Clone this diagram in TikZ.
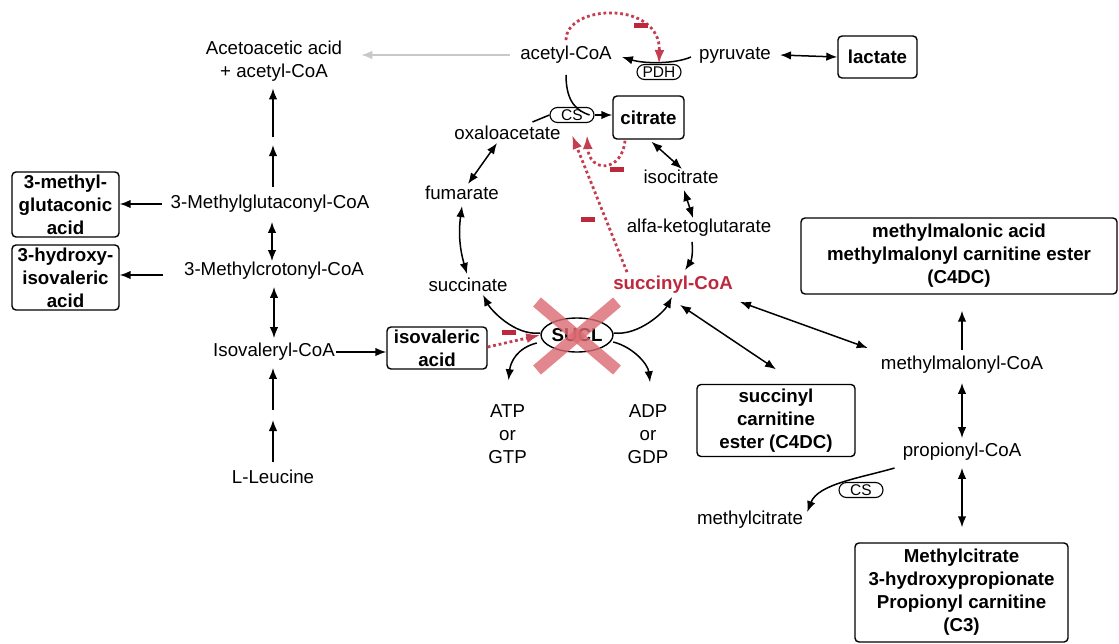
\documentclass[tikz,border=0pt]{standalone}
\usepackage{fontspec}
\setmainfont{Liberation Sans}
\usetikzlibrary{arrows.meta,shapes.geometric}
\definecolor{sred}{RGB}{190,40,60}
\definecolor{xred}{RGB}{220,105,115}
\definecolor{lgray}{RGB}{200,200,200}
\newcommand{\fsn}{\fontsize{18.7}{23}\selectfont}
\newcommand{\fsb}{\fontsize{18.7}{23}\selectfont\bfseries}
\newcommand{\fse}{\fontsize{15.5}{16}\selectfont}
\begin{document}
\begin{tikzpicture}[x=1pt,y=-1pt,
  lbl/.style={inner sep=1pt,font=\fsn,align=center},
  rlbl/.style={inner sep=1pt,font=\fsb,align=center,text=sred},
  box/.style={draw,rounded corners=4pt,line width=1.4pt,font=\fsb,align=center,inner sep=1pt},
  enz/.style={draw,rounded corners=7.5pt,line width=1.1pt,minimum width=44pt,minimum height=15pt,inner sep=0pt,font=\fse},
  ln/.style={line width=1.5pt},
  arr/.style={line width=1.5pt,-{Latex[length=11pt,width=8.5pt]}},
  darr/.style={line width=1.5pt,{Latex[length=11pt,width=8.5pt]}-{Latex[length=11pt,width=8.5pt]}},
  garr/.style={line width=1.4pt,lgray,-{Latex[length=11pt,width=8.5pt]}},
  rdot/.style={sred!90,line width=2.8pt,dash pattern=on 2.8pt off 2.8pt,-{Latex[length=14pt,width=10pt]}},
  minus/.style={fill=sred,minimum width=14pt,minimum height=5pt,inner sep=0pt},
  xmark/.style={xred,opacity=0.8,line width=12pt}
]
\useasboundingbox (0,0) rectangle (1119,643);

% ---------- nodes ----------
\node[lbl] (aceto) at (274,61) {Acetoacetic acid\\+ acetyl-CoA};
\node[lbl] (acoa) at (566,55) {acetyl-CoA};
\node[lbl] (pyr) at (735,55) {pyruvate};
\node[box,minimum width=79pt,minimum height=42pt] (lac) at (877.5,57) {lactate};
\node[enz] (pdh) at (659,72) {PDH};
\node[enz] (cs1) at (572,115) {CS};
\node[box,minimum width=71pt,minimum height=43pt] (cit) at (648.5,117.5) {citrate};
\node[lbl] (oaa) at (507.5,133) {oxaloacetate};
\node[lbl] (fum) at (462,193) {fumarate};
\node[lbl] (succ) at (468,285) {succinate};
\node[lbl] (iso) at (681,177) {isocitrate};
\node[lbl] (akg) at (699,228) {alfa-ketoglutarate};
\node[rlbl] (scoa) at (673,285) {succinyl-CoA};
\node[draw,ellipse,line width=1.4pt,minimum width=67pt,minimum height=34pt,inner sep=0pt,font=\fsb] (sucl) at (577,335) {SUCL};
\node[lbl] (atp) at (507.5,434) {ATP\\or\\GTP};
\node[lbl] (adp) at (648,434) {ADP\\or\\GDP};
\node[box,minimum width=100pt,minimum height=42pt] (isova) at (437,348) {isovaleric\\acid};
\node[lbl] (ivcoa) at (274,352) {Isovaleryl-CoA};
\node[lbl] (mccoa) at (274,271) {3-Methylcrotonyl-CoA};
\node[lbl] (mgcoa) at (270,204) {3-Methylglutaconyl-CoA};
\node[lbl] (leu) at (273,477) {L-Leucine};
\node[box,minimum width=107pt,minimum height=65pt] (mga) at (65.5,204.5) {3-methyl-\\glutaconic\\acid};
\node[box,minimum width=107pt,minimum height=65pt] (hiva) at (65.5,277.5) {3-hydroxy-\\isovaleric\\acid};
\node[box,minimum width=316pt,minimum height=76pt] (mma) at (959,256) {methylmalonic acid\\methylmalonyl carnitine ester\\(C4DC)};
\node[lbl] (mmcoa) at (962,365) {methylmalonyl-CoA};
\node[box,minimum width=158pt,minimum height=72pt] (sce) at (776,420.5) {succinyl\\carnitine\\ester (C4DC)};
\node[lbl] (pcoa) at (962,452) {propionyl-CoA};
\node[lbl] (mcit) at (750,520) {methylcitrate};
\node[enz] (cs2) at (861,490) {CS};
\node[box,minimum width=213pt,minimum height=99pt] (mcbox) at (961.5,592.5) {Methylcitrate\\3-hydroxypropionate\\Propionyl carnitine\\(C3)};

\coordinate (g1) at (273,414);
\coordinate (g2) at (273,141);

% ---------- top ----------
\draw[garr] ([xshift=-9pt]acoa.west) -- ([xshift=18pt]aceto.east |- acoa.west);
\draw[darr] ([xshift=8pt]pyr.east) -- (lac.west);
\draw[arr] ([xshift=-7pt,yshift=-2pt]pyr.west) .. controls ([xshift=16pt]pdh.north) and ([xshift=-14pt]pdh.north) .. ([xshift=9pt,yshift=-2pt]acoa.east);
\draw[rdot] ([yshift=5pt]acoa.north) .. controls +(0,-36) and +(2,-64) .. (pdh.north);
\node[minus] (mn1) at (641,25.5) {};

% acetyl-CoA + oxaloacetate -> citrate
\draw[ln] ([yshift=-10pt]acoa.south) .. controls +(0,28) and +(-12,-4) .. ([xshift=-5pt]cs1.east);
\draw[ln] ([xshift=-17pt,yshift=-7pt]cs1.west) -- (cs1.west);
\draw[arr] (cs1.east) -- (cs1.east -| cit.west);

% inhibition arrows to CS
\draw[rdot] ([xshift=-23.5pt,yshift=-1pt]cit.south) .. controls +(-3,32) and +(2,38) .. ([xshift=15pt,yshift=-12pt]cs1.south);
\node[minus] (mn2) at (616.5,169.5) {};
\draw[rdot] ([xshift=-46pt,yshift=3pt]scoa.north) -- ([yshift=-12pt]cs1.south);
\node[minus] (mn3) at (587.5,219.5) {};

% ---------- TCA cycle ----------
\draw[darr] ([xshift=3pt,yshift=-2pt]cit.south) -- ([xshift=1pt]iso.north);
\draw[darr] ([xshift=3pt,yshift=-5pt]iso.south) -- ([xshift=-6pt]akg.north);
\draw[arr] ([xshift=-7pt,yshift=-4pt]akg.south) to[bend left=20] ([xshift=12pt,yshift=5pt]scoa.north);
\draw[darr] ([xshift=-10.5pt,yshift=-2pt]oaa.south) -- ([xshift=6pt,yshift=1pt]fum.north);
\draw[darr] ([yshift=-5pt]fum.south) to[bend right=12] ([xshift=-1pt,yshift=3pt]succ.north);

% SUCL reactions
\draw[arr] ([yshift=2pt]sucl.west) .. controls +(-25.5,3) and +(8,15) .. ([xshift=15pt,yshift=-2pt]succ.south);
\draw[arr] ([yshift=2pt]sucl.east) .. controls +(25,3) and +(-8,15) .. ([xshift=-1pt,yshift=-2pt]scoa.south);
\draw[arr] ([xshift=-3.5pt,yshift=-8pt]sucl.west) .. controls +(-20,5) and +(2,-18) .. ([xshift=1pt,yshift=23pt]atp.north);
\draw[arr] ([xshift=-0.5pt,yshift=-7pt]sucl.east) .. controls +(20,5) and +(-2,-18) .. ([xshift=2pt,yshift=21pt]adp.north);
\draw[rdot] ([yshift=1pt]isova.east) -- (sucl.west);
\node[minus] (mn4) at (508.5,332) {};
\draw[xmark] (sucl.center) ++(-40,-33) -- ++(80,68);
\draw[xmark] (sucl.center) ++(40,-33) -- ++(-80,68);

% ---------- leucine pathway ----------
\draw[arr] ([yshift=7pt]leu.north) -- ([yshift=-6pt]g1);
\draw[arr] ([yshift=4pt]g1) -- ([yshift=-6pt]g1 |- ivcoa.south);
\draw[arr] (ivcoa.east) -- (ivcoa.east -| isova.west);
\draw[darr] ([yshift=-6pt]mccoa.south) -- ([yshift=4pt]ivcoa.north);
\draw[darr] ([xshift=-2pt,yshift=-8pt]mccoa.north |- mgcoa.south) -- ([xshift=-2pt]mccoa.north);
\draw[arr] ([xshift=3pt,yshift=7pt]mgcoa.north) -- ([yshift=-4pt]g2);
\draw[arr] ([yshift=4pt]g2) -- ([yshift=-6pt]g2 |- aceto.south);
\draw[arr] ([xshift=-8pt]mgcoa.west) -- (mgcoa.west -| mga.east);
\draw[arr] ([xshift=-20pt,yshift=-4pt]mccoa.west) -- ([yshift=2.5pt]hiva.east);

% ---------- propionate side ----------
\draw[darr] ([xshift=7pt,yshift=-10pt]scoa.south) -- ([yshift=14.5pt]sce.north);
\draw[darr] ([xshift=6pt,yshift=-7pt]scoa.south east) -- ([xshift=-12pt,yshift=17pt]mmcoa.west);
\draw[arr] ([yshift=5pt]mmcoa.north) -- ([yshift=-16pt]mmcoa.north |- mma.south);
\draw[darr] ([yshift=-8pt]mmcoa.south) -- ([yshift=4pt]pcoa.north);
\draw[darr] ([yshift=-6pt]pcoa.south) -- ([yshift=15pt]pcoa.south |- mcbox.north);
\draw[arr] ([xshift=-7pt,yshift=-16pt]pcoa.west) .. controls (860,478) and (818,484) .. ([xshift=3pt,yshift=-2pt]mcit.north east);
\end{tikzpicture}
\end{document}
